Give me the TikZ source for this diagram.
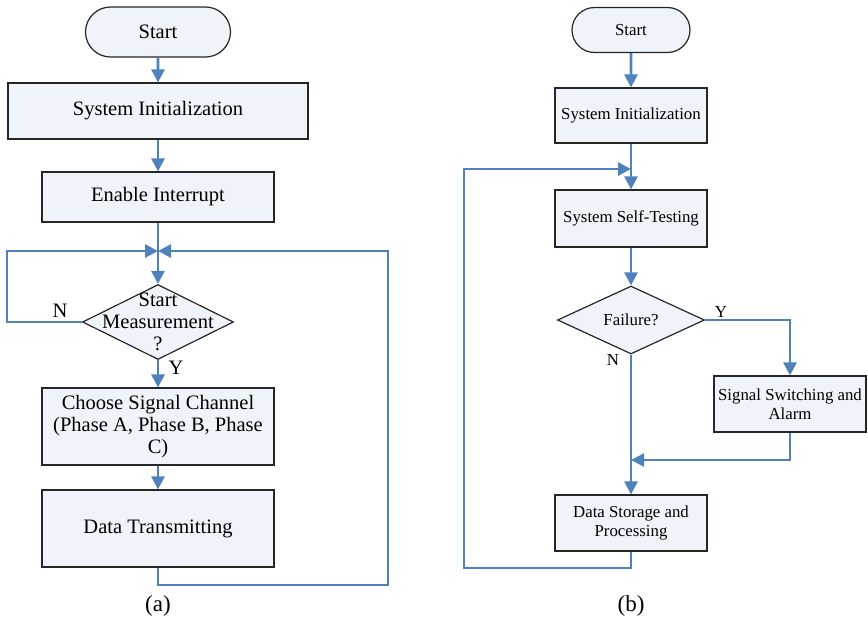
\documentclass[tikz,border=0pt]{standalone}
\usepackage{fontspec}
\setmainfont{Liberation Serif}
\usetikzlibrary{arrows.meta,positioning,shapes.geometric,shapes.misc}
\definecolor{boxfill}{RGB}{239,243,250}
\definecolor{flowblue}{RGB}{79,129,189}

\begin{document}
\begin{tikzpicture}[x=1pt,y=-1pt,>={Triangle[length=13pt,width=13pt]},
  box/.style={draw=black!85,fill=boxfill,line width=1.2pt,inner sep=0pt,align=center},
  term/.style={box,rounded rectangle},
  dia/.style={draw=black!85,fill=boxfill,line width=1.2pt,diamond,inner sep=0pt},
  flow/.style={draw=flowblue,line width=2.8pt,->},
  line/.style={draw=flowblue,line width=2.8pt}]
\useasboundingbox (0,0) rectangle (868,622);

% (a) measurement loop
\begin{scope}[font=\fontsize{20.5}{22}\selectfont]
\node[term,minimum width=145pt,minimum height=50pt] (startA) at (158,32) {Start};
\node[box,minimum width=300pt,minimum height=56pt] (initA) at (158,111) {System Initialization};
\node[box,minimum width=232pt,minimum height=50pt] (intA) at (158,197) {Enable Interrupt};
\coordinate (joinA) at (158,251);
\node[dia,minimum width=151pt,minimum height=75pt] (measA) at (158,322) {};
\node[align=center] (measTxt) at (measA) {Start\\Measurement\\?};
\node[box,minimum width=232pt,minimum height=77pt] (chanA) at (158,426.5) {Choose Signal Channel\\(Phase A, Phase B, Phase\\C)};
\node[box,minimum width=232pt,minimum height=77pt] (sendA) at (158,528.5) {Data Transmitting};
\coordinate (loopA) at (7,251);
\coordinate (backA) at (388,585);
\node (nA) at (60,311) {N};
\node (yA) at (176,368) {Y};
\node[font=\fontsize{23}{25}\selectfont] (capA) at (158,606) {(a)};
\end{scope}
\draw[flow] (startA) -- (initA);
\draw[flow] (initA) -- (intA);
\draw[line] (intA) -- (joinA);
\draw[flow] (joinA) -- (measA);
\draw[flow] (measA) -- (chanA);
\draw[flow] (chanA) -- (sendA);
\draw[flow] (measA.west) -| (loopA) -- (joinA);
\draw[flow] (sendA) |- (backA) |- (joinA);

% (b) self-test loop
\begin{scope}[font=\fontsize{16.8}{19}\selectfont]
\node[term,minimum width=118pt,minimum height=45pt] (startB) at (631,30) {Start};
\node[box,minimum width=152pt,minimum height=55pt] (initB) at (631,115.5) {System Initialization};
\coordinate (joinB) at (631,169);
\node[box,minimum width=152pt,minimum height=57pt] (testB) at (631,218.5) {System Self-Testing};
\node[dia,minimum width=147pt,minimum height=68pt] (failB) at (631,320) {};
\node (failTxt) at (failB) {Failure?};
\node[box,minimum width=152pt,minimum height=56pt] (alarmB) at (790,404) {Signal Switching and\\Alarm};
\coordinate (mergeB) at (631,460);
\node[box,minimum width=152pt,minimum height=56pt] (storeB) at (631,523) {Data Storage and\\Processing};
\coordinate (loopB) at (464,568);
\node (yB) at (721,312) {Y};
\node (nB) at (613,360) {N};
\node[font=\fontsize{23}{25}\selectfont] (capB) at (631,606) {(b)};
\end{scope}
\draw[flow] (startB) -- (initB);
\draw[flow] (initB) -- (testB);
\draw[flow] (testB) -- (failB);
\draw[flow] (failB.east) -| (alarmB);
\draw[flow] (alarmB) |- (mergeB);
\draw[flow] (failB) -- (storeB);
\draw[flow] (storeB) |- (loopB) |- (joinB);
\end{tikzpicture}
\end{document}
